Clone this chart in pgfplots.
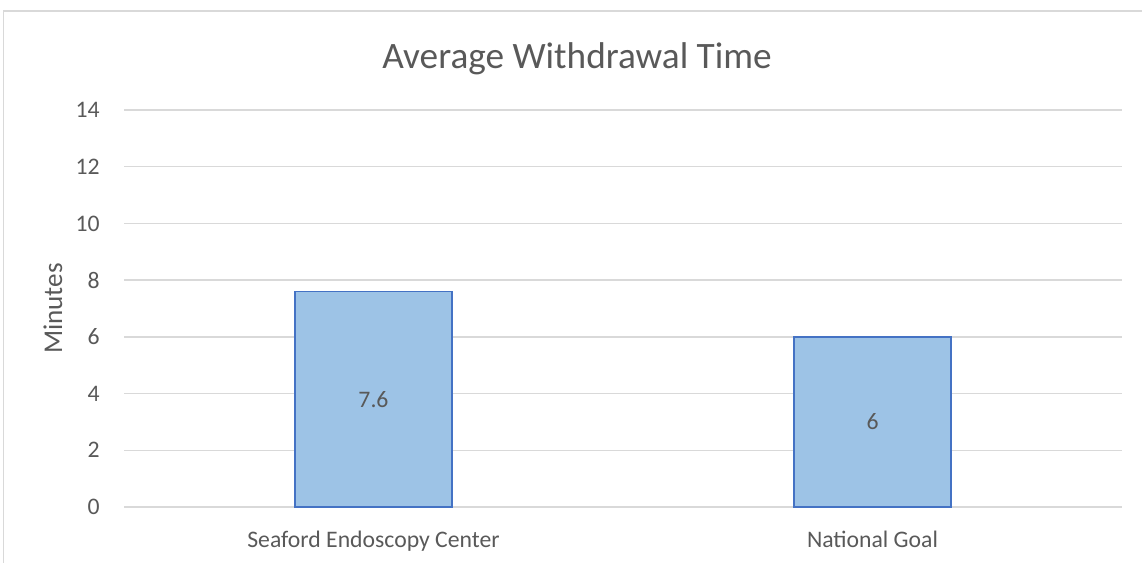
\documentclass[border=0pt]{standalone}
\usepackage{pgfplots}
\pgfplotsset{compat=1.18}
\usepackage{fontspec}
\setmainfont{Carlito}
\definecolor{txt}{HTML}{595959}
\definecolor{gridc}{HTML}{D9D9D9}
\definecolor{barfill}{HTML}{9DC3E6}
\definecolor{barline}{HTML}{4472C4}
\begin{document}
\begin{tikzpicture}[x=1bp,y=1bp]
\path[use as bounding box] (0,0) rectangle (571,281);
\draw[gridc, line width=0.75bp] (1.75,-5) -- (1.75,275.5) -- (580,275.5);
\node[font=\fontsize{18.7}{22}\selectfont, text=txt, anchor=base] at (288.5,247) {Average Withdrawal Time};
\begin{axis}[
  at={(62bp,27.5bp)}, anchor=south west,
  scale only axis, width=499bp, height=198.5bp,
  xmin=-0.5, xmax=1.5, ymin=0, ymax=14,
  xtick={0,1}, xticklabels={Seaford Endoscopy Center, National Goal},
  ytick={0,2,...,14},
  axis line style={draw=none},
  ymajorgrids, grid style={gridc, line width=0.7bp},
  major tick length=0pt,
  tick label style={font=\fontsize{11.9}{14}\selectfont, text=txt},
  /pgf/number format/assume math mode=true,
  yticklabel style={inner sep=0pt, xshift=-12bp},
  xticklabel style={inner sep=0pt, yshift=-12bp},
  ylabel={Minutes},
  ylabel style={font=\fontsize{13.6}{16}\selectfont, text=txt, at={(axis description cs:-0.0621,0.5)}, anchor=base, inner sep=0pt},
  clip=false,
]
\addplot[ybar, bar width=78.5bp, fill=barfill, draw=barline, line width=0.75bp] coordinates {(0,7.6) (1,6)};
\addplot[draw=none, mark=none, nodes near coords, point meta=explicit symbolic,
  nodes near coords style={anchor=center, font=\fontsize{11.9}{14}\selectfont, text=txt}]
  coordinates {(0,3.8) [7.6] (1,3) [6]};
\end{axis}
\end{tikzpicture}
\end{document}
